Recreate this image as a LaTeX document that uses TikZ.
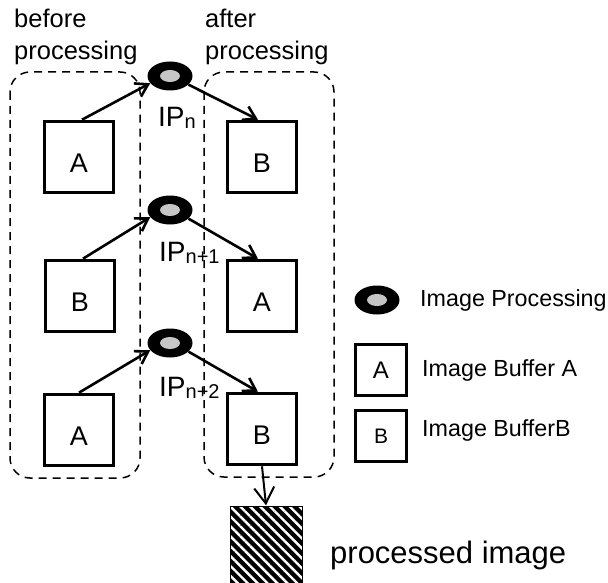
\documentclass[tikz,border=0pt]{standalone}
\usepackage{fontspec}
\setmainfont{Liberation Sans}
\usetikzlibrary{shapes.geometric,arrows.meta,patterns.meta}
\begin{document}
\begin{tikzpicture}[x=1pt,y=-1pt,
  buf/.style={draw, line width=3.6pt, minimum width=69pt, minimum height=71pt,
    inner sep=0pt, text height=30pt, text depth=0pt, font=\fontsize{27}{27}\selectfont},
  lbuf/.style={draw, line width=3.4pt, minimum width=51pt, minimum height=51pt,
    inner sep=0pt},
  ipell/.style={ellipse, fill=black, minimum width=45pt, minimum height=29pt, inner sep=0pt,
    path picture={\fill[gray!45] (path picture bounding box.center) ellipse (10pt and 6pt);}},
  cont/.style={line width=1.5pt, dash pattern=on 8pt off 6pt, rounded corners=20pt},
  arr/.style={line width=2.6pt, -{Straight Barb[length=12pt,width=15pt]}},
  txt/.style={inner sep=0pt, anchor=base west},
  iplab/.style={inner sep=0pt, anchor=base west, font=\fontsize{28}{28}\selectfont}]
\useasboundingbox (0,0) rectangle (608,583);

% containers
\draw[cont] (10,72) rectangle (140,478);
\draw[cont] (204,72) rectangle (334,477);

% headings
\node[txt, font=\fontsize{25.5}{25.5}\selectfont] (t1) at (14,28) {before};
\node[txt, font=\fontsize{25.5}{25.5}\selectfont] (t2) at (14,60) {processing};
\node[txt, font=\fontsize{25.5}{25.5}\selectfont] (t3) at (205,28) {after};
\node[txt, font=\fontsize{25.5}{25.5}\selectfont] (t4) at (205,60) {processing};

% buffers
\node[buf] (l1) at (79,157) {A};
\node[buf] (r1) at (262,157) {B};
\node[buf] (l2) at (80,296) {B};
\node[buf] (r2) at (262,296) {A};
\node[buf] (l3) at (79,430) {A};
\node[buf] (r3) at (262,429) {B};

% processing ellipses
\node[ipell] (e1) at (170,76) {};
\node[ipell] (e2) at (170,210) {};
\node[ipell] (e3) at (170,343) {};

% IP labels
\node[iplab] (ip1) at (158,127) {IP{\fontsize{20}{20}\selectfont\raisebox{-2pt}{n}}};
\node[iplab] (ip2) at (159,261) {IP{\fontsize{20}{20}\selectfont\raisebox{-2pt}{n+1}}};
\node[iplab] (ip3) at (159,396) {IP{\fontsize{20}{20}\selectfont\raisebox{-2pt}{n+2}}};

% arrows
\draw[arr] ([xshift=3pt]l1.north) -- (e1.200);
\draw[arr] (e1.-25) -- ([xshift=-4pt]r1.north);
\draw[arr] ([xshift=3pt]l2.north) -- (e2.200);
\draw[arr] (e2.-25) -- ([xshift=-4pt]r2.north);
\draw[arr] ([xshift=0pt]l3.north) -- (e3.200);
\draw[arr] (e3.-25) -- ([xshift=-4pt]r3.north);

% processed image
\node[draw, line width=1pt, minimum width=72pt, minimum height=77pt, inner sep=0pt,
  preaction={fill=black}, pattern={Lines[angle=-45,distance=7pt,line width=2.4pt]},
  pattern color=white] (pi) at (266,545) {};
\draw[line width=2pt, -{Straight Barb[length=16pt,width=20pt]}] (r3.south) -- (pi.north);
\node[txt, font=\fontsize{31}{31}\selectfont] (pt) at (330,563) {processed image};

% legend
\node[ipell] (g1) at (377,300) {};
\node[lbuf, font=\fontsize{24}{24}\selectfont] (g2) at (381,370) {A};
\node[lbuf, font=\fontsize{21}{21}\selectfont] (g3) at (381,436) {B};
\node[inner sep=0pt, anchor=west, font=\fontsize{23.3}{23.3}\selectfont] (gt1) at (420,300) {Image Processing};
\node[inner sep=0pt, anchor=west, font=\fontsize{23.3}{23.3}\selectfont] (gt2) at (422,370) {Image Buffer A};
\node[inner sep=0pt, anchor=west, font=\fontsize{23.3}{23.3}\selectfont] (gt3) at (422,430) {Image BufferB};
\end{tikzpicture}
\end{document}
